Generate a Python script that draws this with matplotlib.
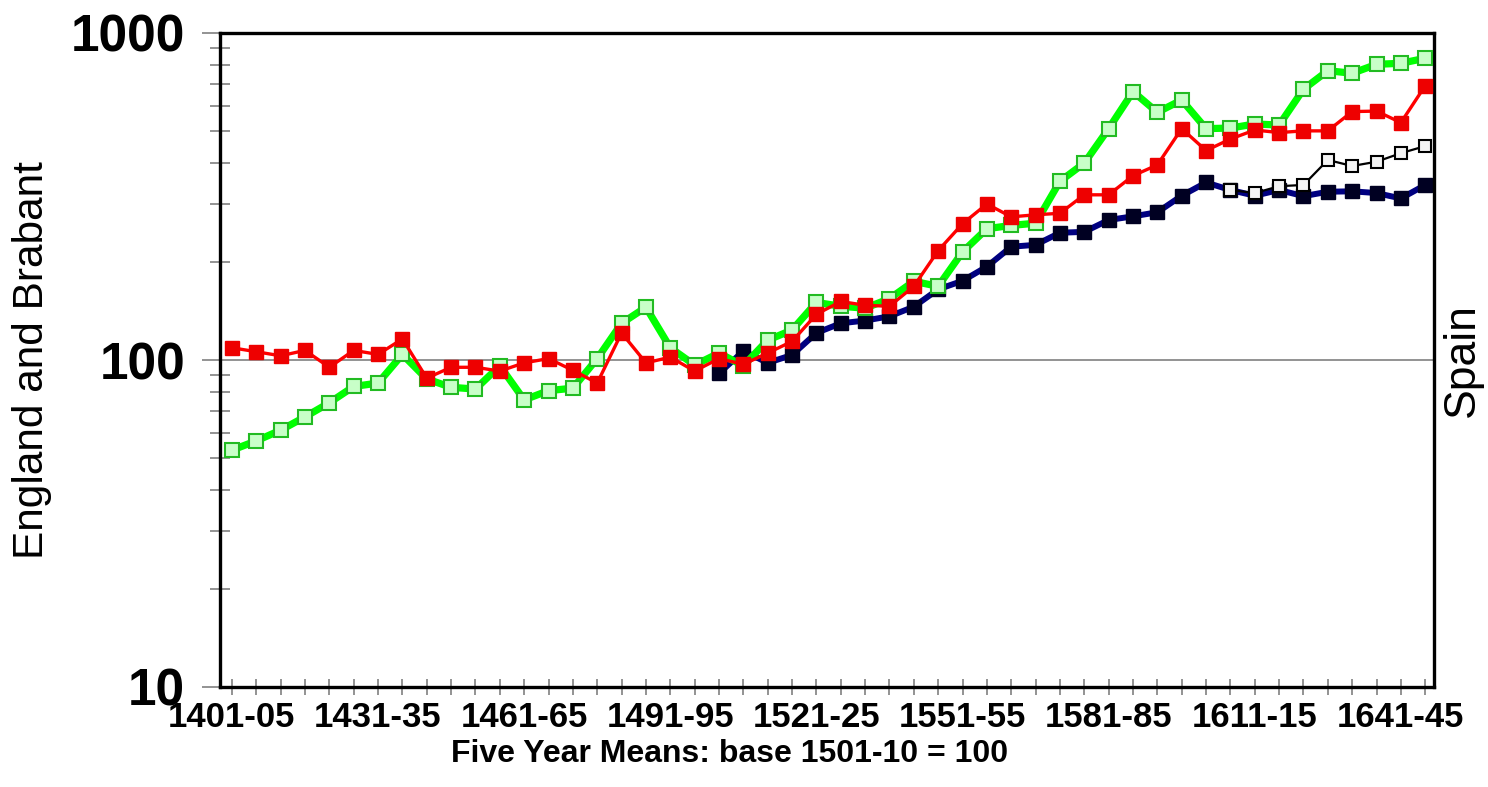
import numpy as np
import matplotlib
matplotlib.use("Agg")
import matplotlib.pyplot as plt
from matplotlib.ticker import FixedLocator, FixedFormatter, LogLocator, NullFormatter

plt.rcParams["font.family"] = ["Liberation Sans", "DejaVu Sans"]

# five year periods, 1401-05 .. 1646-50
periods = [f"{y}-{(y + 4) % 100:02d}" for y in range(1401, 1650, 5)]

england = [109, 106, 103, 107, 95, 107, 104, 116, 88, 95,
           95, 92.5, 98, 101, 93, 85, 121, 98, 102, 92.5,
           101, 97, 105, 114, 138, 151, 147, 146, 168, 216,
           261, 300, 274, 278, 281, 320, 320, 366, 395, 510,
           437, 474, 505, 496, 502, 502, 575, 577, 532, 690]

brabant = [53, 56.6, 61, 67, 74, 83, 85, 104, 87.5, 82.5,
           81.5, 96, 75.5, 80.6, 82, 101, 129.5, 145, 109, 96.5,
           105, 96, 115, 123.5, 150, 146, 144, 154, 174, 168,
           214, 252, 258, 262, 352, 400, 510, 662, 572, 624,
           510, 512, 527, 523, 673, 767, 753, 802, 808, 837]

spain = [np.nan] * 20 + [
    91, 106.5, 98, 103.6, 121, 129.5, 132, 136, 145.5, 164.5,
    174.6, 193, 222, 225, 245, 246.5, 268, 275, 283, 318,
    349, 331, 318, 331, 317, 327, 328, 324, 312, 343]

spain_b = [np.nan] * 41 + [331, 324, 340, 343, 409, 392, 404, 429, 451]

x = np.arange(len(periods))

fig = plt.figure(figsize=(14.88, 7.87), dpi=100, facecolor="w")
ax = fig.add_axes([220 / 1488, 1 - 687 / 787, (1434 - 220) / 1488, (687 - 33) / 787])

ax.axhline(100, color="#8a8a8a", lw=1.3, zorder=0.5)

ax.plot(x, spain, "-s", color="#000080", lw=4.3, ms=10,
        mfc="#000022", mec="#000022", zorder=2)
ax.plot(x, spain_b, "-s", color="#000000", lw=1.6, ms=9,
        mfc="#f4f4f4", mec="#000000", mew=1.5, zorder=3)
ax.plot(x, brabant, "-s", color="#00ff00", lw=5.2, ms=10,
        mfc="#c8ffc8", mec="#22bb22", mew=1.5, zorder=4)
ax.plot(x, england, "-s", color="#ff0000", lw=2.4, ms=10.5,
        mfc="#ee0000", mec="#ee0000", zorder=5)

ax.set_yscale("log")
ax.set_ylim(10, 1000)
ax.set_xlim(-0.49, 49.36)

ax.yaxis.set_major_locator(FixedLocator([10, 100, 1000]))
ax.yaxis.set_major_formatter(FixedFormatter(["10", "100", "1000"]))
ax.yaxis.set_minor_locator(LogLocator(base=10, subs=np.arange(2, 10)))
ax.yaxis.set_minor_formatter(NullFormatter())
ax.tick_params(axis="y", which="major", direction="out", length=13, width=1.2,
               color="#808080", pad=12, labelsize=37)
ax.tick_params(axis="y", which="minor", direction="inout", length=15, width=1.2,
               color="#808080")
for lab in ax.get_yticklabels():
    lab.set_fontweight("bold")

ax.set_xticks(x)
ax.set_xticklabels([p if i % 6 == 0 else "" for i, p in enumerate(periods)],
                   fontsize=25, fontweight="bold")
ax.tick_params(axis="x", which="major", direction="inout", length=12, width=1.2,
               color="#808080", pad=4)

for side in ["left", "right", "top", "bottom"]:
    ax.spines[side].set_linewidth(2.4)
    ax.spines[side].set_color("black")

fig.text(730 / 1488, 1 - 754 / 787, "Five Year Means: base 1501-10 = 100",
         ha="center", va="center", fontsize=23, fontweight="bold")
fig.text(32 / 1488, 1 - 360 / 787, "England and Brabant", rotation=90,
         ha="center", va="center", fontsize=30.5)
fig.text(1462 / 1488, 1 - 360 / 787, "Spain", rotation=90,
         ha="center", va="center", fontsize=32)

plt.savefig("out.png", dpi=100, facecolor="w")
